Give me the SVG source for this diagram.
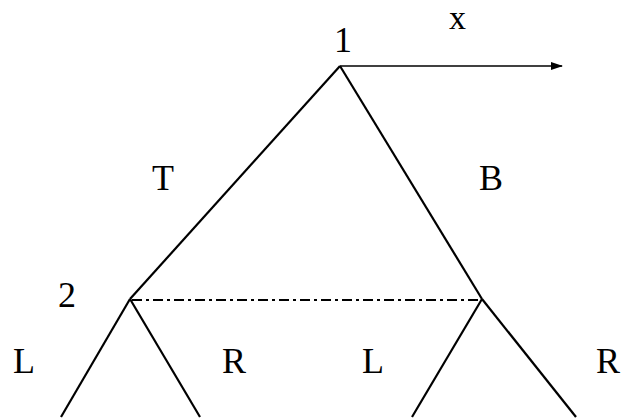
<svg xmlns="http://www.w3.org/2000/svg" width="629" height="419" viewBox="0 0 629 419">
<style>
.l{stroke:#000;stroke-width:2.2;fill:none}
.t{font-family:"Liberation Serif","Times New Roman",serif;font-size:36px;fill:#000}
</style>
<defs><marker id="ah" markerWidth="12" markerHeight="8" refX="11" refY="4" orient="auto" markerUnits="userSpaceOnUse"><path d="M0,0 L12,4 L0,8 Z" fill="#000"/></marker></defs>
<rect width="629" height="419" fill="#fff"/>
<g id="connectors">
<line class="l" x1="340" y1="66" x2="130" y2="299"/>
<line class="l" x1="340" y1="66" x2="482" y2="299"/>
<line x1="340" y1="66" x2="562" y2="66" stroke="#000" stroke-width="1.6" marker-end="url(#ah)"/>
<line class="l" x1="132" y1="300" x2="480" y2="300" stroke-dasharray="10,4,3,4"/>
<line class="l" x1="130" y1="299" x2="61" y2="417"/>
<line class="l" x1="130" y1="299" x2="200" y2="417"/>
<line class="l" x1="482" y1="299" x2="412" y2="417"/>
<line class="l" x1="482" y1="299" x2="576" y2="417"/>
</g>
<g id="n1"><text class="t" x="334" y="52">1</text></g>
<g id="nx"><text class="t" x="449" y="29" style="font-size:34px">x</text></g>
<g id="nT"><text class="t" x="152" y="190">T</text></g>
<g id="nB"><text class="t" x="479" y="190">B</text></g>
<g id="n2"><text class="t" x="58" y="307">2</text></g>
<g id="nL1"><text class="t" x="13" y="373">L</text></g>
<g id="nR1"><text class="t" x="222" y="373">R</text></g>
<g id="nL2"><text class="t" x="362" y="373">L</text></g>
<g id="nR2"><text class="t" x="596" y="373">R</text></g>
</svg>
